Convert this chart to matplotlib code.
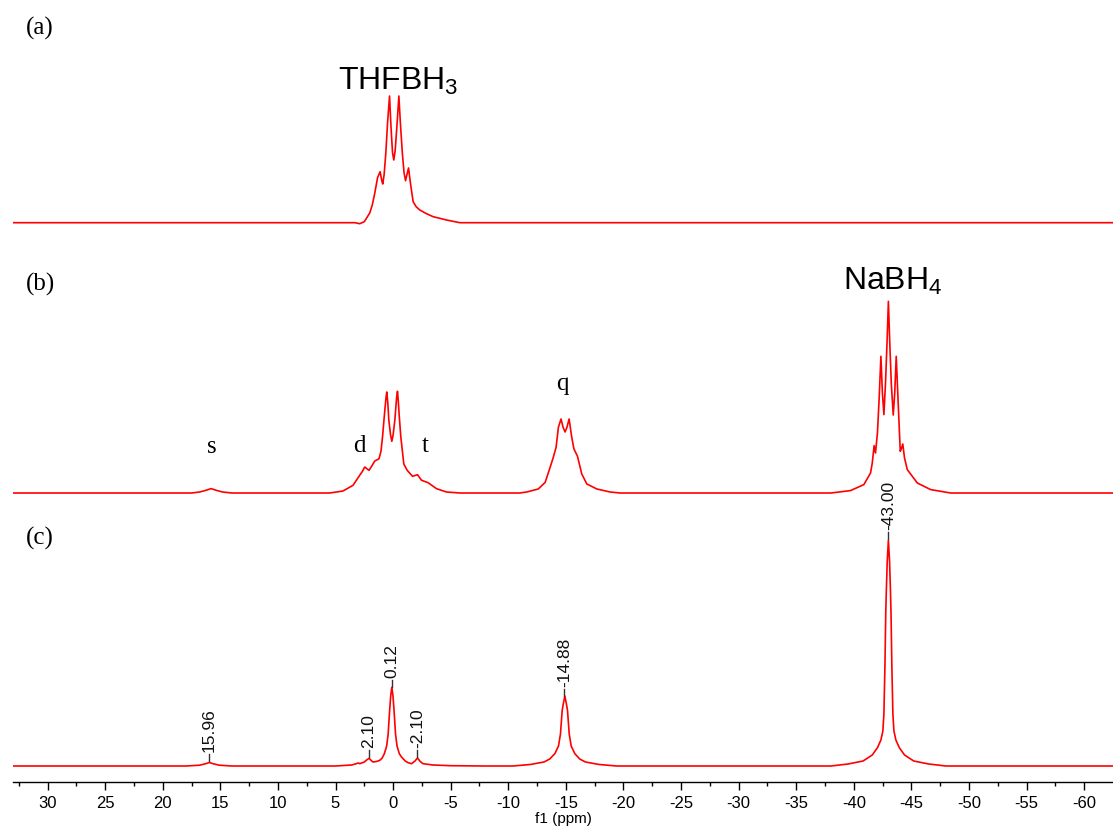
import numpy as np
import matplotlib
matplotlib.use("Agg")
import matplotlib.pyplot as plt

# trace (a): THF-BH3
ppm_a = [33.0, 5.0, 3.3, 2.9, 2.5, 2.03, 1.8, 1.59, 1.35, 1.13,
         0.98, 0.90, 0.78, 0.63, 0.48, 0.31, 0.18, 0.05, -0.06, -0.18,
         -0.35, -0.50, -0.63, -0.8, -0.95, -1.08, -1.2, -1.34, -1.5, -1.74,
         -2.0, -2.32, -2.9, -3.48, -4.64, -5.8, -62.5]
int_a = [0, 0, 0, -1, 1, 9.7, 18, 29.7, 45, 51,
         42, 38.7, 48, 70, 100, 126.7, 95, 70, 62.7, 72,
         100, 126.7, 100, 70, 50, 42, 48, 54.7, 40, 21,
         16, 12.7, 9, 6, 2.7, 0, 0]

# trace (b): reaction mixture
ppm_b = [33.0, 17.5, 16.8, 16.3, 15.8, 15.3, 14.8, 14.0,
         6.5, 5.5, 4.35, 3.48, 2.96, 2.7, 2.46, 2.25, 2.09, 1.85,
         1.59, 1.22, 1.05, 0.92, 0.72, 0.62, 0.55, 0.46, 0.37, 0.22,
         0.11, 0.0, -0.15, -0.30, -0.38, -0.45, -0.52, -0.67, -0.93, -1.22,
         -1.69, -1.9, -2.12, -2.47, -3.04, -3.77, -4.64, -5.8,
         -11.0, -11.6, -12.6, -13.2, -13.63, -13.91, -14.15, -14.35, -14.58, -14.75,
         -14.93, -15.1, -15.28, -15.51, -15.7, -16.0, -16.38, -16.82, -17.69, -18.84,
         -19.7,
         -38.0, -39.71, -40.87, -41.45, -41.6, -41.76, -41.88, -42.05, -42.2, -42.35,
         -42.48, -42.61, -42.75, -42.88, -43.0, -43.12, -43.25, -43.42, -43.55, -43.68,
         -43.85, -44.03, -44.15, -44.25, -44.4, -44.64, -45.51, -46.67, -48.4, -62.5]
int_b = [0, 0, 1, 2.5, 4.4, 2.5, 1, 0,
         0, 0, 2, 7.7, 16.7, 21, 26, 24, 22.7, 27,
         32, 34.3, 42, 56, 82.7, 95, 101, 90, 72.7, 58,
         51.7, 58, 72.7, 95, 101.7, 92, 79, 56, 29, 22.7,
         16.7, 17.5, 18.3, 12.7, 10.3, 4.3, 1, 0,
         0, 1, 4, 10.6, 25.6, 35.7, 45.7, 65.7, 74, 66,
         61, 66, 74, 55.7, 44, 37, 19, 9, 4, 1,
         0,
         0, 2.4, 8.4, 20, 30, 47.4, 40, 60, 95, 136.7,
         100, 78.4, 110, 150, 191.7, 150, 110, 78, 100, 136.7,
         90, 41.7, 45, 49, 35, 23.4, 10, 3.4, 0, 0]

# trace (c): decoupled spectrum
ppm_c = [33.0, 18.0, 16.8, 16.3, 15.96, 15.6, 15.1, 14.0,
         5.0, 3.6, 3.0, 2.9, 2.5, 2.3, 2.08, 1.9, 1.74, 1.45,
         1.15, 0.95, 0.76, 0.56, 0.43, 0.30, 0.21, 0.11, 0.01, -0.08,
         -0.21, -0.34, -0.54, -0.73, -1.05, -1.3, -1.6, -1.9, -2.12, -2.35,
         -2.6, -3.47, -5.0, -8.0,
         -10.4, -11.9, -13.1, -13.6, -14.04, -14.36, -14.53, -14.68, -14.79, -14.91,
         -15.03, -15.14, -15.29, -15.46, -15.78, -16.2, -16.7, -17.9, -19.4,
         -38.0, -39.5, -40.8, -41.6, -42.05, -42.35, -42.52, -42.61, -42.7, -42.77,
         -42.82, -42.9, -43.0, -43.1, -43.18, -43.23, -43.3, -43.39, -43.48, -43.65,
         -43.95, -44.4, -45.2, -46.5, -48.0, -62.5]
int_c = [0, 0, 0.8, 2.2, 3.5, 2.2, 0.8, 0,
         0, 1, 3, 2.3, 4, 6, 7.7, 5.5, 4, 4.5,
         5.7, 8, 12.3, 20, 32, 55.7, 70, 78.7, 70, 55.7,
         32, 20, 12.3, 9, 5, 3.3, 2.3, 5, 8, 4.5,
         2.3, 1, 0.3, 0,
         0, 1.5, 4, 7, 12.3, 20, 32, 55.7, 63, 70,
         63, 55.7, 32, 20, 12.3, 7, 4, 1.5, 0,
         0, 2, 5, 11, 18.3, 26, 35, 52, 100, 152,
         175, 205, 225.7, 205, 175, 152, 100, 52, 35, 26,
         18.3, 11, 5, 2, 0, 0]

peak_ppm_c = [15.96, 2.10, 0.12, -2.10, -14.88, -43.00]
peak_lbl_c = ["15.96", "2.10", "0.12", "-2.10", "-14.88", "-43.00"]

xticks = np.arange(30, -61, -5)

plt.rcParams['font.family'] = ['Liberation Sans', 'DejaVu Sans']
plt.rcParams['mathtext.fontset'] = 'custom'
plt.rcParams['mathtext.rm'] = 'Liberation Sans'
plt.rcParams['axes.unicode_minus'] = False

W, H = 1113, 832
fig = plt.figure(figsize=(W / 100, H / 100), dpi=100)
ax = fig.add_axes([13 / W, 50 / H, 1100 / W, 782 / H])

# vertical offsets of the three traces (axis units = pixels)
off_a, off_b, off_c = 559.3, 289, 16

red = '#ff0000'
ax.plot(ppm_a, np.array(int_a) + off_a, color=red, lw=1.2)
ax.plot(ppm_b, np.array(int_b) + off_b, color=red, lw=1.2)
ax.plot(ppm_c, np.array(int_c) + off_c, color=red, lw=1.2)

# peak picking labels on (c)
xp = np.array(ppm_c)[::-1]
yp = np.array(int_c)[::-1]
for p, lbl in zip(peak_ppm_c, peak_lbl_c):
    top = np.interp(p, xp, yp) + off_c
    ax.plot([p, p], [top + 1.5, top + 8.5], color='#333333', lw=1)
    ax.text(p, top + 10.5, lbl, rotation=90, ha='center', va='bottom',
            fontsize=12.5, color='#111111')

serif = ['Liberation Serif', 'DejaVu Serif']
ax.text(31.9, 782 - 35, "(a)", family=serif, fontsize=18, ha='left', va='baseline')
ax.text(31.9, 782 - 291, "(b)", family=serif, fontsize=18, ha='left', va='baseline')
ax.text(31.9, 782 - 545, "(c)", family=serif, fontsize=18, ha='left', va='baseline')

ax.text(-0.45, 782 - 89.3, "THFBH$_3$", fontsize=23, ha='center', va='baseline')
ax.text(-43.4, 782 - 290, "NaBH$_4$", fontsize=23, ha='center', va='baseline')

ax.text(15.72, 782 - 453.3, "s", family=serif, fontsize=18, ha='center', va='baseline')
ax.text(2.92, 782 - 451.7, "d", family=serif, fontsize=18, ha='center', va='baseline')
ax.text(-2.75, 782 - 451.7, "t", family=serif, fontsize=18, ha='center', va='baseline')
ax.text(-14.71, 782 - 390, "q", family=serif, fontsize=18, ha='center', va='baseline')

ax.set_xlim(33, -62.5)
ax.set_ylim(0, 782)
ax.set_xticks(xticks)
ax.set_xticks(np.arange(32.5, -62.5, -2.5), minor=True)
ax.set_yticks([])
ax.tick_params(axis='x', which='major', direction='out', length=6, width=1,
               labelsize=12, pad=4)
ax.tick_params(axis='x', which='minor', direction='out', length=3, width=1)
for s in ['left', 'top', 'right']:
    ax.spines[s].set_visible(False)
ax.spines['bottom'].set_linewidth(1)
ax.set_xlabel("f1 (ppm)", fontsize=11, labelpad=1)
ax.patch.set_alpha(0)

fig.savefig("out.png", dpi=100)
